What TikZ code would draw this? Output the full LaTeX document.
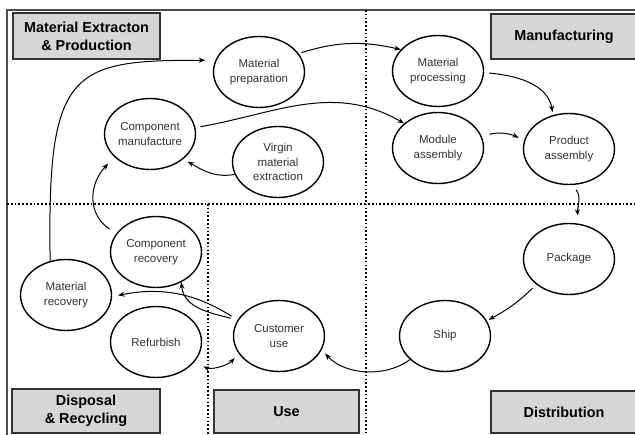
\documentclass[tikz,border=0pt]{standalone}
\usepackage{fontspec}
\setmainfont{Liberation Sans}
\usetikzlibrary{arrows.meta,shapes.geometric}
\begin{document}
\begin{tikzpicture}[x=1pt,y=-1pt,
  stage/.style={draw=black, line width=1.4pt, ellipse, minimum width=91pt, minimum height=71pt,
    inner sep=0pt, align=center, text=black!80, font=\fontsize{11.5}{14.5}\selectfont},
  phase/.style={draw=black!80, line width=2pt, fill=black!16, align=center, inner sep=0pt,
    font=\bfseries\fontsize{14.4}{18}\selectfont},
  divider/.style={line width=1.7pt, dash pattern=on 1.7pt off 2.1pt},
  flow/.style={-{Stealth[length=6.5pt,width=5pt]}, line width=1pt},
  both/.style={{Stealth[length=6.5pt,width=5pt]}-{Stealth[length=6.5pt,width=5pt]}, line width=1pt}]
\clip (0,0) rectangle (635,435);
\fill[white] (0,0) rectangle (635,435);
% frame and dividers
\draw[black!70, line width=1.6pt] (7,445) -- (7,10) -- (645,10);
\draw[divider] (7,204) -- (645,204);
\draw[divider] (366,10) -- (366,445);
\draw[divider] (208,204) -- (208,445);
% phase labels
\node[phase, minimum width=147pt, minimum height=46pt] (lblmep) at (86.5,36) {Material Extracton\\\& Production};
\node[phase, minimum width=146pt, minimum height=45pt] (lblman) at (564,36.5) {Manufacturing};
\node[phase, minimum width=148pt, minimum height=44pt] (lbldis) at (86,411) {Disposal\\\& Recycling};
\node[phase, minimum width=145pt, minimum height=43pt] (lbluse) at (286.5,411.5) {Use};
\node[phase, minimum width=146pt, minimum height=42pt] (lbldst) at (564,412) {Distribution};
% stages
\node[stage] (matprep) at (259,72) {Material\\preparation};
\node[stage] (matproc) at (438,71) {Material\\processing};
\node[stage] (compman) at (150,134) {Component\\manufacture};
\node[stage] (virgin)  at (278,162) {Virgin\\material\\extraction};
\node[stage] (modasm)  at (438,148) {Module\\assembly};
\node[stage] (prodasm) at (569,149) {Product\\assembly};
\node[stage] (package) at (569,259) {Package};
\node[stage] (ship)    at (445,336) {Ship};
\node[stage] (custuse) at (279,336) {Customer\\use};
\node[stage] (comprec) at (156,252) {Component\\recovery};
\node[stage] (matrec)  at (66,295) {Material\\recovery};
\node[stage] (refurb)  at (156,342) {Refurbish};
% connectors
\draw[flow, shorten >=10pt] (matrec.115) .. controls (47,70) and (70,60) .. (matprep.165);
\draw[flow, shorten <=3pt] (matprep.25) to[bend left=15] (matproc.150);
\draw[flow, shorten <=5pt, shorten >=3pt] (matproc.-2) to[out=-5,in=100] (prodasm.115);
\draw[flow, shorten <=5pt] (compman.8) to[out=10,in=150] (modasm.144);
\draw[flow, shorten <=8pt, shorten >=6pt] (modasm.15) to[bend left=20] (prodasm.169);
\draw[flow, shorten <=6pt, shorten >=8pt] (prodasm.-85) to[out=-50,in=95] (package.75);
\draw[flow, shorten <=5pt, shorten >=2pt] (package.218) to[bend left=8] (ship.20);
\draw[flow, shorten >=5pt] (ship.214) .. controls (385,378) and (345,375) .. (custuse.-18);
\draw[flow, shorten <=7pt, shorten >=6pt] (custuse.159) to[bend right=22] (matrec.-2);
\draw[flow, shorten <=7pt] (custuse.159) to[out=165,in=-85] (comprec.-50);
\draw[both, shorten <=10pt, shorten >=6pt] (refurb.-28) to[bend right=35] (custuse.204);
\draw[flow, shorten <=8pt, shorten >=9pt] (comprec.155) .. controls (88,215) and (88,185) .. (compman.213);
\draw[flow, shorten >=5pt] (virgin.196) to[out=190,in=-30] (compman.-37);
\end{tikzpicture}
\end{document}
